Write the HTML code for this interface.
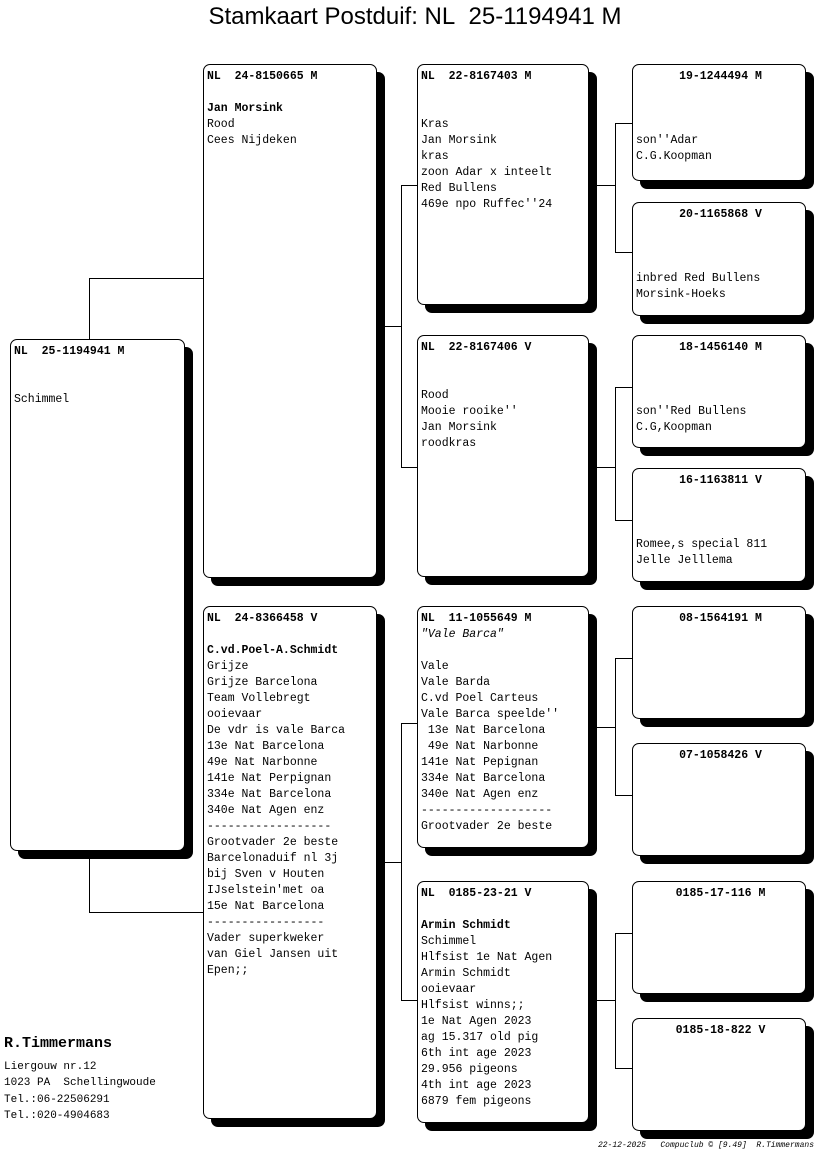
<!DOCTYPE html>
<html><head><meta charset="utf-8"><style>
body{margin:0;width:816px;height:1172px;background:#fff;position:relative;overflow:hidden;font-family:"Liberation Mono","DejaVu Sans Mono",monospace;}
.b{position:absolute;background:#fff;border:1px solid #000;border-radius:7px;box-shadow:8px 8px 0 #000;box-sizing:border-box;padding:4px 0 0 3px;font-size:11.5px;line-height:16px;white-space:pre;color:#000;}
.b b{font-weight:bold}
.c{text-align:center;padding-left:0}
.l{position:absolute;background:#000}
.t{position:absolute;left:0;width:830px;top:3px;text-align:center;font-family:"Liberation Sans",Arial,sans-serif;font-size:24px;}
</style></head><body>
<div class="t">Stamkaart Postduif: NL&nbsp; 25-1194941 M</div>

<!-- connectors -->
<div class="l" style="left:89px;top:278px;width:1px;height:61px"></div>
<div class="l" style="left:89px;top:278px;width:114px;height:1px"></div>
<div class="l" style="left:89px;top:850px;width:1px;height:62px"></div>
<div class="l" style="left:89px;top:912px;width:114px;height:1px"></div>

<div class="l" style="left:384px;top:326px;width:18px;height:1px"></div>
<div class="l" style="left:401px;top:185px;width:1px;height:283px"></div>
<div class="l" style="left:401px;top:185px;width:16px;height:1px"></div>
<div class="l" style="left:401px;top:467px;width:16px;height:1px"></div>
<div class="l" style="left:384px;top:862px;width:18px;height:1px"></div>
<div class="l" style="left:401px;top:723px;width:1px;height:278px"></div>
<div class="l" style="left:401px;top:723px;width:16px;height:1px"></div>
<div class="l" style="left:401px;top:1000px;width:16px;height:1px"></div>

<div class="l" style="left:597px;top:185px;width:18px;height:1px"></div>
<div class="l" style="left:615px;top:123px;width:1px;height:130px"></div>
<div class="l" style="left:615px;top:123px;width:17px;height:1px"></div>
<div class="l" style="left:615px;top:252px;width:17px;height:1px"></div>
<div class="l" style="left:597px;top:467px;width:18px;height:1px"></div>
<div class="l" style="left:615px;top:387px;width:1px;height:134px"></div>
<div class="l" style="left:615px;top:387px;width:17px;height:1px"></div>
<div class="l" style="left:615px;top:520px;width:17px;height:1px"></div>
<div class="l" style="left:597px;top:727px;width:18px;height:1px"></div>
<div class="l" style="left:615px;top:658px;width:1px;height:138px"></div>
<div class="l" style="left:615px;top:658px;width:17px;height:1px"></div>
<div class="l" style="left:615px;top:795px;width:17px;height:1px"></div>
<div class="l" style="left:597px;top:1000px;width:18px;height:1px"></div>
<div class="l" style="left:615px;top:933px;width:1px;height:136px"></div>
<div class="l" style="left:615px;top:933px;width:17px;height:1px"></div>
<div class="l" style="left:615px;top:1068px;width:17px;height:1px"></div>

<!-- gen0 -->
<div class="b" style="left:10px;top:339px;width:175px;height:512px"><b>NL  25-1194941 M</b>


Schimmel</div>

<!-- gen1 -->
<div class="b" style="left:203px;top:64px;width:174px;height:514px"><b>NL  24-8150665 M</b>

<b>Jan Morsink</b>
Rood
Cees Nijdeken</div>
<div class="b" style="left:203px;top:606px;width:174px;height:513px"><b>NL  24-8366458 V</b>

<b>C.vd.Poel-A.Schmidt</b>
Grijze
Grijze Barcelona
Team Vollebregt
ooievaar
De vdr is vale Barca
13e Nat Barcelona
49e Nat Narbonne
141e Nat Perpignan
334e Nat Barcelona
340e Nat Agen enz
------------------
Grootvader 2e beste
Barcelonaduif nl 3j
bij Sven v Houten
IJselstein'met oa
15e Nat Barcelona
-----------------
Vader superkweker
van Giel Jansen uit
Epen;;</div>

<!-- gen2 -->
<div class="b" style="left:417px;top:64px;width:172px;height:241px"><b>NL  22-8167403 M</b>


Kras
Jan Morsink
kras
zoon Adar x inteelt
Red Bullens
469e npo Ruffec''24</div>
<div class="b" style="left:417px;top:335px;width:172px;height:242px"><b>NL  22-8167406 V</b>


Rood
Mooie rooike''
Jan Morsink
roodkras</div>
<div class="b" style="left:417px;top:606px;width:172px;height:242px"><b>NL  11-1055649 M</b>
<i>"Vale Barca"</i>

Vale
Vale Barda
C.vd Poel Carteus
Vale Barca speelde''
 13e Nat Barcelona
 49e Nat Narbonne
141e Nat Pepignan
334e Nat Barcelona
340e Nat Agen enz
-------------------
Grootvader 2e beste</div>
<div class="b" style="left:417px;top:881px;width:172px;height:242px"><b>NL  0185-23-21 V</b>

<b>Armin Schmidt</b>
Schimmel
Hlfsist 1e Nat Agen
Armin Schmidt
ooievaar
Hlfsist winns;;
1e Nat Agen 2023
ag 15.317 old pig
6th int age 2023
29.956 pigeons
4th int age 2023
6879 fem pigeons</div>

<!-- gen3 -->
<div class="b" style="left:632px;top:64px;width:174px;height:117px;padding-top:6px"><div class="c" style="margin-top:-2px"><b>19-1244494 M</b></div>


son''Adar
C.G.Koopman</div>
<div class="b" style="left:632px;top:202px;width:174px;height:114px;padding-top:6px"><div class="c" style="margin-top:-2px"><b>20-1165868 V</b></div>


inbred Red Bullens
Morsink-Hoeks</div>
<div class="b" style="left:632px;top:335px;width:174px;height:113px;padding-top:6px"><div class="c" style="margin-top:-2px"><b>18-1456140 M</b></div>


son''Red Bullens
C.G,Koopman</div>
<div class="b" style="left:632px;top:468px;width:174px;height:114px;padding-top:6px"><div class="c" style="margin-top:-2px"><b>16-1163811 V</b></div>


Romee,s special 811
Jelle Jelllema</div>
<div class="b" style="left:632px;top:606px;width:174px;height:113px"><div class="c"><b>08-1564191 M</b></div></div>
<div class="b" style="left:632px;top:743px;width:174px;height:113px"><div class="c"><b>07-1058426 V</b></div></div>
<div class="b" style="left:632px;top:881px;width:174px;height:113px"><div class="c"><b>0185-17-116 M</b></div></div>
<div class="b" style="left:632px;top:1018px;width:174px;height:113px"><div class="c"><b>0185-18-822 V</b></div></div>

<!-- footer -->
<div style="position:absolute;left:4px;top:1035px;font-size:15px;font-weight:bold;font-family:'Liberation Mono',monospace">R.Timmermans</div>
<div style="position:absolute;left:4px;top:1059px;font-size:11px;line-height:16.3px;white-space:pre;font-family:'Liberation Mono',monospace">Liergouw nr.12
1023 PA  Schellingwoude
Tel.:06-22506291
Tel.:020-4904683</div>
<div style="position:absolute;right:2px;top:1141px;font-size:8px;font-style:italic;white-space:pre;font-family:'Liberation Mono',monospace">22-12-2025   Compuclub © [9.49]  R.Timmermans</div>
</body></html>
